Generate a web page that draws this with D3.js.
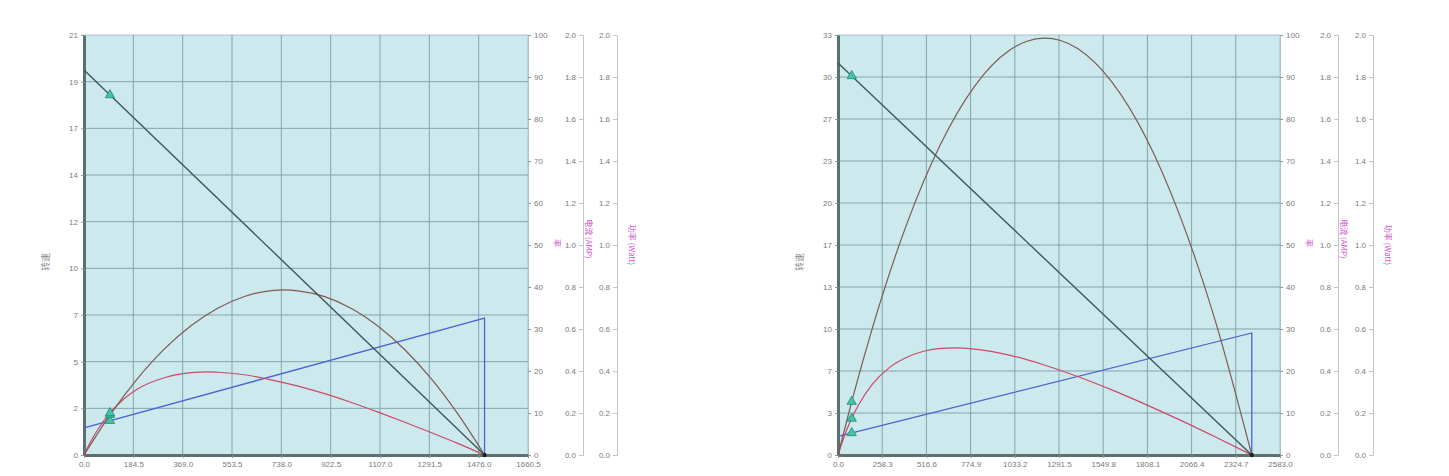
<!DOCTYPE html>
<html>
<head>
<meta charset="UTF-8" />
<script src="https://cdnjs.cloudflare.com/ajax/libs/d3/7.8.5/d3.min.js"></script>
<style>
  body { margin: 0; background: #fff; }
  svg { font-family: "Liberation Sans", "DejaVu Sans", sans-serif; }
  .tick text { fill: #7a7a7a; font-size: 8px; }
  .tick line { stroke: #8a9a9c; }
  .main-axis path.domain { stroke: #5c7072; stroke-width: 3; }
  .side-axis path.domain { stroke: #c2c6c6; stroke-width: 1; }
  .side-axis .tick line { stroke: #c2c6c6; }
  .pct-axis path.domain { stroke: #a9c4c7; }
  .title-grey { fill: #8a8a8a; font-size: 9px; font-family: "Noto Sans CJK SC", sans-serif; }
  .title-pink { fill: #d050d0; font-size: 8px; font-family: "Noto Sans CJK SC", sans-serif; }
</style>
</head>
<body>
<svg width="1449" height="476"></svg>
<script>
// ---- chart 1 (left) ----
const xMax1 = 1660.5;
const yMax1 = 21;
const yLabels1 = ["0", "2", "5", "7", "10", "12", "14", "17", "19", "21"];
const speed1 = [[0, 19.25], [1498, 0]];
const current1 = [[0, 0.129], [1498, 0.652], [1498, 0]];
const power1 = [[0, 0], [100, 0.196], [200, 0.364], [300, 0.504], [400, 0.615], [500, 0.699],
  [600, 0.755], [700, 0.783], [749, 0.786], [800, 0.782], [900, 0.754], [1000, 0.698],
  [1100, 0.613], [1200, 0.501], [1300, 0.361], [1400, 0.192], [1498, 0]];
const eff1 = [[0, 0], [25, 3.2], [50, 5.9], [100, 10.2], [150, 13.4], [200, 15.7], [300, 18.4],
  [400, 19.6], [460, 19.8], [500, 19.7], [600, 19.1], [700, 17.9], [800, 16.4], [900, 14.6],
  [1000, 12.5], [1100, 10.2], [1200, 7.8], [1300, 5.3], [1400, 2.7], [1498, 0]];
const markerX1 = 97;
const markerY1 = [18.0, 0.163, 0.192, 10.0]; // speed, current, power, eff

// ---- chart 2 (right) ----
const xMax2 = 2583.0;
const yMax2 = 33;
const yLabels2 = ["0", "3", "7", "10", "13", "17", "20", "23", "27", "30", "33"];
const speed2 = [[0, 30.8], [2418, 0]];
const current2 = [[0, 0.089], [2418, 0.581], [2418, 0]];
const power2 = [[0, 0], [80, 0.254], [200, 0.602], [400, 1.096], [600, 1.481], [800, 1.758],
  [1000, 1.926], [1100, 1.969], [1209, 1.985], [1300, 1.974], [1400, 1.936], [1600, 1.777],
  [1800, 1.511], [2000, 1.135], [2200, 0.652], [2418, 0]];
const eff2 = [[0, 0], [25, 3.1], [50, 5.9], [80, 8.7], [120, 11.9], [200, 16.8], [300, 20.8],
  [400, 23.2], [500, 24.7], [600, 25.4], [680, 25.5], [800, 25.2], [1000, 23.8], [1200, 21.5],
  [1400, 18.7], [1600, 15.5], [1800, 12.0], [2000, 8.3], [2200, 4.4], [2418, 0]];
const markerX2 = 80;
const markerY2 = [29.78, 0.105, 0.254, 8.7];

const svg = d3.select("svg");

function drawChart(c) {
  const top = 35, bottom = 455;
  const g = svg.append("g");

  const x = d3.scaleLinear().domain([0, c.xMax]).range([c.left, c.right]);
  const y = d3.scaleLinear().domain([0, c.yMax]).range([bottom, top]);
  const yPct = d3.scaleLinear().domain([0, 100]).range([bottom, top]);
  const yAmp = d3.scaleLinear().domain([0, 2]).range([bottom, top]);
  const yWatt = d3.scaleLinear().domain([0, 2]).range([bottom, top]);

  const xTicks = d3.range(c.xSteps + 1).map(i => i * c.xMax / c.xSteps);
  const yTicks = c.yLabels.map((d, i) => i * c.yMax / (c.yLabels.length - 1));

  g.append("rect")
    .attr("x", c.left).attr("y", top)
    .attr("width", c.right - c.left).attr("height", bottom - top)
    .attr("fill", "#cce9ee").attr("stroke", "#a9c4c7");

  // grid
  g.selectAll(".vgrid").data(xTicks.slice(1, -1)).enter().append("line")
    .attr("x1", d => x(d)).attr("x2", d => x(d))
    .attr("y1", top).attr("y2", bottom)
    .attr("stroke", "#82a5a9").attr("stroke-width", 1);
  g.selectAll(".hgrid").data(yTicks.slice(1, -1)).enter().append("line")
    .attr("x1", c.left).attr("x2", c.right)
    .attr("y1", d => y(d)).attr("y2", d => y(d))
    .attr("stroke", "#82a5a9").attr("stroke-width", 1);

  // axes
  g.append("g").attr("class", "pct-axis")
    .attr("transform", `translate(${c.right},0)`)
    .call(d3.axisRight(yPct).tickValues(d3.range(0, 101, 10)).tickSize(3).tickPadding(3));

  [[c.ampX, yAmp], [c.wattX, yWatt]].forEach(([ax, sc]) => {
    g.append("g").attr("class", "side-axis")
      .attr("transform", `translate(${ax},0)`)
      .call(d3.axisLeft(sc).tickValues(d3.range(0, 11).map(i => i * 0.2))
        .tickFormat(d3.format(".1f")).tickSize(4).tickPadding(3));
  });

  g.append("g").attr("class", "main-axis")
    .attr("transform", `translate(0,${bottom})`)
    .call(d3.axisBottom(x).tickValues(xTicks).tickFormat(d3.format(".1f"))
      .tickSize(3).tickPadding(3).tickSizeOuter(0));
  g.append("g").attr("class", "main-axis")
    .attr("transform", `translate(${c.left},0)`)
    .call(d3.axisLeft(y).tickValues(yTicks).tickFormat((d, i) => c.yLabels[i])
      .tickSize(3).tickPadding(3).tickSizeOuter(0));

  // titles
  g.append("text").attr("class", "title-grey")
    .attr("transform", `translate(${c.left - 35},${(top + bottom) / 2 + 17}) rotate(-90)`)
    .attr("text-anchor", "middle").text("转速");
  g.append("text").attr("class", "title-pink")
    .attr("transform", `translate(${c.right + 26},${(top + bottom) / 2 - 2}) rotate(90)`)
    .attr("text-anchor", "middle").attr("font-size", 10).text("率");
  g.append("text").attr("class", "title-pink")
    .attr("transform", `translate(${c.ampX + 3},${(top + bottom) / 2 - 6}) rotate(90)`)
    .attr("text-anchor", "middle").text("电流 (AMP)");
  g.append("text").attr("class", "title-pink")
    .attr("transform", `translate(${c.wattX + 12},${(top + bottom) / 2}) rotate(90)`)
    .attr("text-anchor", "middle").text("功率 (Watt)");

  const line = sc => d3.line().x(d => x(d[0])).y(d => sc(d[1]));
  const smooth = sc => d3.line().curve(d3.curveMonotoneX).x(d => x(d[0])).y(d => sc(d[1]));

  g.append("path").attr("d", line(yAmp)(c.current))
    .attr("fill", "none").attr("stroke", "#4a62d6").attr("stroke-width", 1.3);
  g.append("path").attr("d", smooth(yPct)(c.eff))
    .attr("fill", "none").attr("stroke", "#cc4a66").attr("stroke-width", 1.2);
  g.append("path").attr("d", smooth(yWatt)(c.power))
    .attr("fill", "none").attr("stroke", "#7e5a52").attr("stroke-width", 1.2);
  g.append("path").attr("d", line(y)(c.speed))
    .attr("fill", "none").attr("stroke", "#3f5857").attr("stroke-width", 1.4);

  // stall point
  const stall = c.speed[c.speed.length - 1];
  g.append("circle").attr("cx", x(stall[0])).attr("cy", y(0)).attr("r", 2.2).attr("fill", "#222");

  // markers
  const scales = [y, yAmp, yWatt, yPct];
  const tri = d3.symbol(d3.symbolTriangle).size(38);
  g.selectAll(".marker").data(c.markerY).enter().append("path")
    .attr("d", tri)
    .attr("transform", (d, i) => `translate(${x(c.markerX)},${scales[i](d)})`)
    .attr("fill", "#46c2a6").attr("stroke", "#1f8a72").attr("stroke-width", 0.8);
}

drawChart({ left: 84, right: 528, ampX: 583, wattX: 617, xMax: xMax1, xSteps: 9,
  yMax: yMax1, yLabels: yLabels1, speed: speed1, current: current1, power: power1,
  eff: eff1, markerX: markerX1, markerY: markerY1 });
drawChart({ left: 838, right: 1280, ampX: 1338, wattX: 1373, xMax: xMax2, xSteps: 10,
  yMax: yMax2, yLabels: yLabels2, speed: speed2, current: current2, power: power2,
  eff: eff2, markerX: markerX2, markerY: markerY2 });
</script>
</body>
</html>
